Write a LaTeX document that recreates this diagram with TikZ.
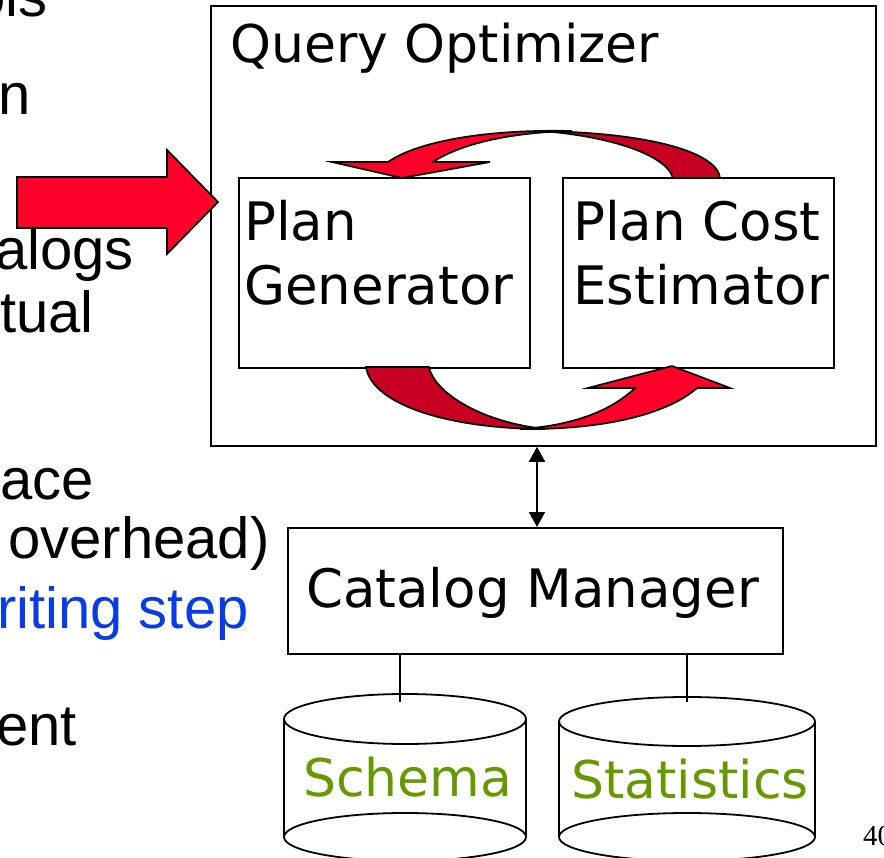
\documentclass[tikz,border=0pt]{standalone}
\usepackage{fontspec}
\usetikzlibrary{arrows.meta}
\newfontfamily\dvfont{DejaVu Sans}
\newfontfamily\arfont{Liberation Sans}
\newfontfamily\tmfont{Liberation Serif}
\definecolor{arrowred}{RGB}{255,0,41}
\definecolor{arrowdark}{RGB}{200,0,34}
\definecolor{dbgreen}{RGB}{102,153,0}
\definecolor{noteblue}{RGB}{10,60,230}

\begin{document}
\begin{tikzpicture}[x=1pt,y=-1pt,
  box/.style={draw,line width=1.8pt,fill=white,inner sep=0pt,anchor=north west},
  dvtext/.style={font=\dvfont\fontsize{52}{62}\selectfont,inner sep=0pt,anchor=base west},
  dvbig/.style={dvtext,font=\dvfont\fontsize{53}{63}\selectfont},
  artext/.style={font=\arfont\fontsize{58}{68}\selectfont,inner sep=0pt,anchor=base west},
  ribbon/.style={draw=black,line width=1.7pt,line join=miter},
  link/.style={line width=1.8pt},
  dbl/.style={line width=1.8pt,{Triangle[width=16pt,length=15pt]}-{Triangle[width=16pt,length=15pt]}},
  drum/.style={line width=1.8pt},
]
\useasboundingbox (0,0) rectangle (884,858);
\clip (0,0) rectangle (884,858);

% slide text running in from the left
\node[artext] (t1) at (-27,17) {ols};
\node[artext] (t2) at (-2,115) {n};
\node[artext] (t3) at (-5,270) {alogs};
\node[artext] (t4) at (0,333) {tual};
\node[artext] (t5) at (0,500) {ace};
\node[artext] (t6) at (8,558) {overhead)};
\node[artext,text=noteblue] (t7) at (-3,628) {riting step};
\node[artext] (t8) at (-4,745) {ent};

% optimizer and its two modules
\node[box,minimum width=665pt,minimum height=440pt] (opt) at (210,5) {};
\node[dvtext] (optlabel) at (230,63) {Query Optimizer};
\node[box,minimum width=291pt,minimum height=190pt] (gen) at (238,177) {};
\node[box,minimum width=271pt,minimum height=190pt] (est) at (562,177) {};
\node[dvbig] (gen1) at (244,241) {Plan};
\node[dvbig] (gen2) at (244,305) {Generator};
\node[dvbig] (est1) at (573,241) {Plan Cost};
\node[dvbig] (est2) at (573,305) {Estimator};

% incoming query arrow
\draw[ribbon,fill=arrowred] (17,177) -- (167,177) -- (167,150) -- (218,202)
  -- (167,254) -- (167,228) -- (17,228) -- cycle;

% upper loop: estimator back to generator
\draw[ribbon,fill=arrowdark] (720,178) .. controls (718,155) and (660,133) .. (540,131)
  .. controls (600,135) and (665,152) .. (673,178) -- cycle;
\draw[ribbon,fill=arrowred] (572,131) .. controls (480,129) and (415,143) .. (388,162)
  -- (332,162) -- (402,178) -- (490,162) -- (433,162)
  .. controls (465,141) and (520,132) .. (572,131) -- cycle;

% lower loop: generator to estimator
\draw[ribbon,fill=arrowdark] (366,367) .. controls (372,405) and (450,429) .. (545,429)
  .. controls (480,422) and (434,392) .. (429,367) -- cycle;
\draw[ribbon,fill=arrowred] (520,429) .. controls (610,430) and (670,412) .. (697,388)
  -- (730,388) -- (672,366) -- (588,388) -- (635,388)
  .. controls (610,412) and (570,426) .. (520,429) -- cycle;

% catalog manager
\node[box,minimum width=495pt,minimum height=126pt] (cat) at (287,527) {};
\node[dvbig] (catlabel) at (306,607) {Catalog Manager};
\coordinate (ax) at (537,0);
\draw[dbl] (ax |- opt.south) -- (ax |- cat.north);

% the two stores
\draw[drum] (405,719) ellipse [x radius=121, y radius=25];
\draw[drum] (405,837) ellipse [x radius=121, y radius=24];
\draw[drum] (284,719) -- (284,837);
\draw[drum] (526,719) -- (526,837);
\draw[drum] (687,721.5) ellipse [x radius=128, y radius=24.5];
\draw[drum] (687,837) ellipse [x radius=128, y radius=24];
\draw[drum] (559,721.5) -- (559,837);
\draw[drum] (815,721.5) -- (815,837);
\coordinate (schtop) at (400,702);
\coordinate (stattop) at (687,702);
\draw[link] (cat.south -| schtop) -- (schtop);
\draw[link] (cat.south -| stattop) -- (stattop);
\node[dvtext,text=dbgreen] (schema) at (303,796) {Schema};
\node[dvtext,text=dbgreen] (stats) at (571,798) {Statistics};

% page number
\node[font=\tmfont\fontsize{29}{34}\selectfont,inner sep=0pt,anchor=base west] (pagenum) at (863,845) {40};
\end{tikzpicture}
\end{document}
